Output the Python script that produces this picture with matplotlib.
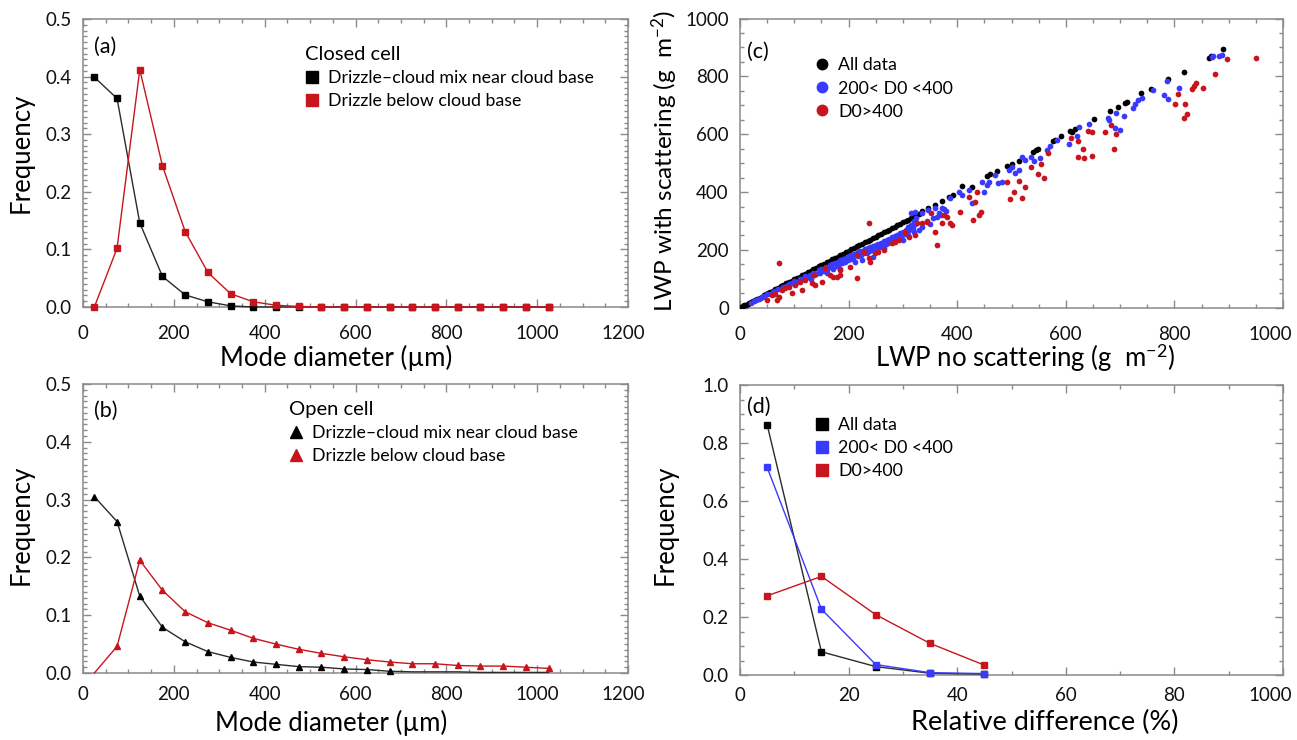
import matplotlib
matplotlib.use("Agg")
import matplotlib.pyplot as plt
from matplotlib.lines import Line2D
from matplotlib.ticker import MultipleLocator, FormatStrFormatter
from matplotlib.transforms import ScaledTranslation

plt.rcParams['font.family'] = ['Lato', 'DejaVu Sans']
plt.rcParams['mathtext.fontset'] = 'custom'
plt.rcParams['mathtext.rm'] = 'Lato'
plt.rcParams['mathtext.it'] = 'Lato:italic'
plt.rcParams['mathtext.bf'] = 'Lato:bold'

# ---------------- data ----------------
# mode-diameter bins (um)
diam = [25, 75, 125, 175, 225, 275, 325, 375, 425, 475, 525, 575, 625, 675,
        725, 775, 825, 875, 925, 975, 1025]

# (a) closed cell
closed_mix = [0.399, 0.362, 0.146, 0.053, 0.021, 0.009, 0.002, 0.0, 0.0, 0.0, 0.0,
              0.0, 0.0, 0.0, 0.0, 0.0, 0.0, 0.0, 0.0, 0.0, 0.0]
closed_below = [0.0, 0.102, 0.412, 0.245, 0.131, 0.060, 0.023, 0.009, 0.003, 0.001,
                0.0, 0.0, 0.0, 0.0, 0.0, 0.0, 0.0, 0.0, 0.0, 0.0, 0.0]

# (b) open cell
open_mix = [0.305, 0.262, 0.133, 0.079, 0.054, 0.037, 0.027, 0.019, 0.015, 0.011,
            0.010, 0.007, 0.006, 0.003, 0.002, 0.002, 0.002, 0.001, 0.001, 0.001, 0.001]
open_below = [0.0, 0.046, 0.195, 0.143, 0.106, 0.087, 0.074, 0.060, 0.050, 0.041,
              0.034, 0.028, 0.023, 0.019, 0.016, 0.016, 0.013, 0.012, 0.012, 0.010, 0.008]

# (c) LWP with vs without scattering (g m-2)
lwp_all_x = [2, 5, 8, 11, 14, 17, 20, 24, 28, 32, 36, 40, 44, 48, 52, 56, 60, 65, 70, 75,
             80, 85, 90, 95, 100, 105, 110, 115, 120, 125, 130, 135, 140, 145, 150, 155,
             160, 165, 170, 175, 180, 185, 190, 195, 200, 205, 210, 215, 220, 225, 230,
             235, 240, 245, 250, 255, 260, 265, 270, 275, 280, 285, 290, 295, 300, 305,
             310, 315, 320, 325, 330, 335, 347, 360, 372, 384, 392, 409, 427, 455, 461,
             473, 492, 501, 513, 539, 545, 549, 577, 580, 591, 608, 611, 617, 652, 681,
             697, 709, 712, 738, 756, 788, 818, 864, 868, 890]
lwp_all_y = [2, 5, 8, 11, 13, 17, 20, 23, 27, 31, 35, 39, 43, 47, 51, 55, 59, 64, 69, 74,
             79, 84, 89, 94, 99, 104, 108, 113, 118, 123, 128, 133, 138, 143, 148, 153,
             158, 162, 167, 172, 177, 182, 187, 192, 197, 202, 207, 212, 216, 221, 226,
             231, 236, 241, 246, 251, 256, 261, 265, 270, 275, 280, 285, 290, 295, 300,
             305, 310, 314, 320, 325, 333, 344, 357, 369, 384, 389, 420, 416, 456, 462,
             472, 491, 497, 508, 539, 545, 549, 576, 580, 593, 611, 609, 618, 653, 680,
             695, 707, 712, 742, 756, 790, 816, 865, 870, 895]

lwp_mid_x = [20, 25, 30, 35, 40, 45, 50, 55, 60, 65, 70, 75, 80, 85, 90, 95, 100, 105,
             110, 115, 120, 125, 128, 132, 135, 140, 145, 148, 150, 155, 158, 160, 165,
             168, 170, 172, 175, 178, 180, 183, 185, 188, 190, 193, 195, 198, 200, 203,
             205, 208, 210, 212, 215, 218, 220, 223, 225, 228, 230, 233, 235, 238, 240,
             243, 245, 248, 250, 252, 255, 258, 260, 262, 265, 268, 270, 273, 275, 278,
             280, 283, 285, 288, 290, 293, 295, 298, 300, 303, 305, 308, 310, 312, 315,
             318, 320, 322, 325, 265, 245, 225, 185, 160, 130, 300, 310, 320, 330, 335,
             345, 350, 355, 362, 370, 375, 380,
             314, 323, 335, 347, 360, 366, 372, 387, 403, 409, 421, 427, 446, 449, 455,
             458, 470, 476, 483, 495, 501, 507, 513, 519, 525,
             536, 541, 552, 566, 571, 583, 606, 620, 625, 643, 678, 680, 691, 700, 692,
             708, 723, 727, 733, 740, 760, 781, 789, 786, 808, 869, 872, 883, 887]
lwp_mid_y = [18, 22, 27, 30, 37, 40, 46, 48, 55, 58, 64, 66, 72, 75, 83, 85, 92, 90,
             100, 98, 110, 108, 115, 112, 120, 118, 130, 122, 135, 128, 140, 130, 148,
             140, 150, 135, 155, 145, 160, 150, 165, 155, 170, 158, 172, 165, 178, 168,
             182, 170, 185, 160, 190, 178, 195, 182, 198, 188, 202, 190, 205, 195, 210,
             200, 212, 205, 218, 200, 222, 210, 225, 215, 230, 220, 235, 225, 238, 230,
             245, 235, 248, 240, 252, 245, 258, 250, 262, 255, 268, 260, 280, 270, 285,
             275, 300, 290, 310, 205, 175, 165, 135, 120, 100, 235, 250, 262, 270, 280,
             300, 290, 310, 315, 320, 340, 335,
             327, 332, 327, 338, 344, 327, 344, 378, 401, 390, 407, 361, 436, 401, 425,
             436, 459, 430, 436, 476, 488, 465, 476, 522, 511,
             522, 507, 519, 545, 559, 580, 566, 595, 626, 634, 657, 649, 620, 615, 672,
             662, 689, 706, 717, 724, 753, 736, 721, 784, 759, 866, 870, 872, 874]

lwp_big_x = [237, 72, 50, 59, 65, 71, 68, 77, 83, 90, 96, 102, 111, 114, 120, 133, 136,
             139, 151, 157, 166, 172, 179, 185, 185, 203, 215, 215, 228, 237, 240, 249,
             255, 265, 280, 286, 292, 304, 311, 323, 326, 335, 344, 351, 360, 363, 372,
             375, 381, 387, 390, 406, 421, 430, 433, 440, 443, 436, 492, 498, 504, 513,
             519, 525,
             536, 549, 554, 560, 568, 609, 623, 623, 631, 633, 641, 648, 649, 673, 683,
             688, 692, 802, 806, 817, 820, 823, 832, 836, 839, 852, 875, 897, 950]
lwp_big_y = [292, 154, 27, 44, 47, 39, 27, 62, 67, 73, 50, 79, 90, 62, 96, 85, 113,
             79, 90, 137, 113, 108, 108, 113, 131, 142, 102, 183, 194, 171, 159, 188,
             194, 200, 223, 229, 234, 263, 246, 252, 292, 292, 298, 327, 263, 217, 292,
             321, 315, 292, 286, 332, 384, 304, 367, 321, 332, 401, 434, 376, 401, 438,
             381, 418,
             488, 462, 496, 448, 536, 586, 578, 522, 549, 519, 611, 609, 526, 607, 632,
             549, 601, 705, 739, 655, 705, 669, 755, 768, 776, 759, 807, 859, 865]

# (d) relative difference histograms
rel_diff = [5, 15, 25, 35, 45]
freq_all = [0.863, 0.080, 0.029, 0.006, 0.003]
freq_mid = [0.716, 0.227, 0.036, 0.008, 0.005]
freq_big = [0.273, 0.340, 0.208, 0.109, 0.034]

ticks_diam = [0, 200, 400, 600, 800, 1000, 1200]
ticks_lwp = [0, 200, 400, 600, 800, 1000]
ticks_rel = [0, 20, 40, 60, 80, 100]
ticklabels_rel = ['0', '20', '40', '60', '80', '1000']

# ---------------- style ----------------
BLACK = '#000000'
LINE_BLACK = '#2b2b2b'
RED = '#c8151d'
BLUE = '#3a3aff'
SPINE = '#8a8a8a'
TICK_FS = 13.5
LABEL_FS = 18.5
LEG_FS = 12.8
TITLE_FS = 14.5
PANEL_FS = 15.5

W, H = 1297, 740
fig = plt.figure(figsize=(W / 100, H / 100), dpi=100)


def px_axes(left, right, top, bottom):
    return fig.add_axes([left / W, 1 - bottom / H, (right - left) / W, (bottom - top) / H])


def style_axes(ax, xminor, yminor, xpad):
    for s in ax.spines.values():
        s.set_color(SPINE)
        s.set_linewidth(1.1)
    ax.xaxis.set_minor_locator(MultipleLocator(xminor))
    ax.yaxis.set_minor_locator(MultipleLocator(yminor))
    ax.tick_params(which='both', direction='in', top=True, right=True,
                   color=SPINE, width=1.0, labelsize=TICK_FS, labelcolor='#111111')
    ax.tick_params(which='major', length=6)
    ax.tick_params(which='minor', length=3)
    ax.tick_params(axis='x', which='major', pad=xpad)
    ax.tick_params(axis='y', which='major', pad=8)


def shift_last_xlabel(ax, dx_px):
    lab = ax.get_xticklabels()[-1]
    lab.set_transform(lab.get_transform() + ScaledTranslation(dx_px / 100, 0, fig.dpi_scale_trans))


def place_labels(ax, xlabel, xl_pos, ylabel, yl_pos, xsize=LABEL_FS, ysize=LABEL_FS):
    ax.set_xlabel(xlabel, fontsize=xsize, va='center')
    ax.xaxis.set_label_coords(*xl_pos)
    ax.set_ylabel(ylabel, fontsize=ysize, va='center')
    ax.yaxis.set_label_coords(*yl_pos)


# ---------------- (a) closed cell ----------------
ax_a = px_axes(83, 628, 19, 307)
ax_a.plot(diam, closed_mix, color=LINE_BLACK, lw=1.0, marker='s', ms=5,
          mfc=BLACK, mec=BLACK, clip_on=False, zorder=3)
ax_a.plot(diam, closed_below, color=RED, lw=1.0, marker='s', ms=5,
          mfc=RED, mec=RED, clip_on=False, zorder=4)
ax_a.set_xlim(0, 1200)
ax_a.set_ylim(0, 0.5)
ax_a.set_xticks(ticks_diam)
ax_a.yaxis.set_major_locator(MultipleLocator(0.1))
ax_a.yaxis.set_major_formatter(FormatStrFormatter('%.1f'))
style_axes(ax_a, 50, 0.01, 13)
shift_last_xlabel(ax_a, -5)
place_labels(ax_a, 'Mode diameter (\u00b5m)', (0.464, -0.177), 'Frequency', (-0.114, 0.535))
ax_a.text(0.02, 0.903, '(a)', transform=ax_a.transAxes, fontsize=PANEL_FS, va='center')
hs = [Line2D([], [], ls='none', marker='s', ms=8, color=BLACK),
      Line2D([], [], ls='none', marker='s', ms=8, color=RED)]
ax_a.legend(hs, ['Drizzle\u2013cloud mix near cloud base', 'Drizzle below cloud base'],
            title='Closed cell', loc='upper left', bbox_to_anchor=(0.395, 0.93),
            frameon=False, fontsize=LEG_FS, title_fontsize=TITLE_FS, alignment='left',
            handlelength=0.8, handletextpad=0.5, labelspacing=0.4, borderaxespad=0)

# ---------------- (b) open cell ----------------
ax_b = px_axes(83, 628, 384, 673)
ax_b.plot(diam, open_mix, color=LINE_BLACK, lw=1.0, marker='^', ms=4.5,
          mfc=BLACK, mec=BLACK, markevery=list(range(14)), clip_on=False, zorder=3)
ax_b.plot(diam, open_below, color=RED, lw=1.0, marker='^', ms=4.5,
          mfc=RED, mec=RED, markevery=list(range(1, 21)), clip_on=False, zorder=4)
ax_b.set_xlim(0, 1200)
ax_b.set_ylim(0, 0.5)
ax_b.set_xticks(ticks_diam)
ax_b.yaxis.set_major_locator(MultipleLocator(0.1))
ax_b.yaxis.set_major_formatter(FormatStrFormatter('%.1f'))
style_axes(ax_b, 50, 0.01, 9)
shift_last_xlabel(ax_b, -5)
place_labels(ax_b, 'Mode diameter (\u00b5m)', (0.455, -0.173), 'Frequency', (-0.114, 0.512))
ax_b.text(0.02, 0.907, '(b)', transform=ax_b.transAxes, fontsize=PANEL_FS, va='center')
hs = [Line2D([], [], ls='none', marker='^', ms=9, color=BLACK),
      Line2D([], [], ls='none', marker='^', ms=9, color=RED)]
ax_b.legend(hs, ['Drizzle\u2013cloud mix near cloud base', 'Drizzle below cloud base'],
            title='Open cell', loc='upper left', bbox_to_anchor=(0.365, 0.965),
            frameon=False, fontsize=LEG_FS, title_fontsize=TITLE_FS, alignment='left',
            handlelength=0.8, handletextpad=0.5, labelspacing=0.4, borderaxespad=0)

# ---------------- (c) LWP scatter ----------------
ax_c = px_axes(740, 1283, 18.5, 307.8)
ax_c.scatter(lwp_all_x, lwp_all_y, s=17, color=BLACK, lw=0, zorder=3)
ax_c.scatter(lwp_mid_x, lwp_mid_y, s=17, color=BLUE, lw=0, zorder=4)
ax_c.scatter(lwp_big_x, lwp_big_y, s=17, color=RED, lw=0, zorder=5)
ax_c.set_xlim(0, 1000)
ax_c.set_ylim(0, 1000)
ax_c.set_xticks(ticks_lwp)
ax_c.set_yticks(ticks_lwp)
style_axes(ax_c, 50, 50, 13)
shift_last_xlabel(ax_c, -13)
place_labels(ax_c, r'LWP no scattering (g  m$^{-2}$)', (0.525, -0.174),
             r'LWP with scattering (g  m$^{-2}$)', (-0.138, 0.508), ysize=17.5)
ax_c.text(0.012, 0.884, '(c)', transform=ax_c.transAxes, fontsize=PANEL_FS, va='center')
hs = [Line2D([], [], ls='none', marker='o', ms=7.5, color=c) for c in (BLACK, BLUE, RED)]
ax_c.legend(hs, ['All data', '200< D0 <400', 'D0>400'], loc='upper left',
            bbox_to_anchor=(0.125, 0.89), frameon=False, fontsize=LEG_FS,
            handlelength=0.8, handletextpad=0.5, labelspacing=0.4, borderaxespad=0)

# ---------------- (d) relative difference ----------------
ax_d = px_axes(740, 1283, 385, 675)
ax_d.plot(rel_diff, freq_all, color=LINE_BLACK, lw=1.0, marker='s', ms=5,
          mfc=BLACK, mec=BLACK, clip_on=False, zorder=3)
ax_d.plot(rel_diff, freq_mid, color=BLUE, lw=1.0, marker='s', ms=5,
          mfc=BLUE, mec=BLUE, clip_on=False, zorder=4)
ax_d.plot(rel_diff, freq_big, color=RED, lw=1.0, marker='s', ms=5,
          mfc=RED, mec=RED, clip_on=False, zorder=5)
ax_d.set_xlim(0, 100)
ax_d.set_ylim(0, 1.0)
ax_d.set_xticks(ticks_rel, ticklabels_rel)
ax_d.yaxis.set_major_locator(MultipleLocator(0.2))
ax_d.yaxis.set_major_formatter(FormatStrFormatter('%.1f'))
style_axes(ax_d, 10, 0.05, 8.5)
shift_last_xlabel(ax_d, -13)
place_labels(ax_d, 'Relative difference (%)', (0.562, -0.162), 'Frequency', (-0.138, 0.517),
             xsize=19.5)
ax_d.text(0.012, 0.924, '(d)', transform=ax_d.transAxes, fontsize=PANEL_FS, va='center')
hs = [Line2D([], [], ls='none', marker='s', ms=8, color=c) for c in (BLACK, BLUE, RED)]
ax_d.legend(hs, ['All data', '200< D0 <400', 'D0>400'], loc='upper left',
            bbox_to_anchor=(0.125, 0.915), frameon=False, fontsize=LEG_FS,
            handlelength=0.8, handletextpad=0.5, labelspacing=0.4, borderaxespad=0)

fig.savefig('out.png', dpi=100)
